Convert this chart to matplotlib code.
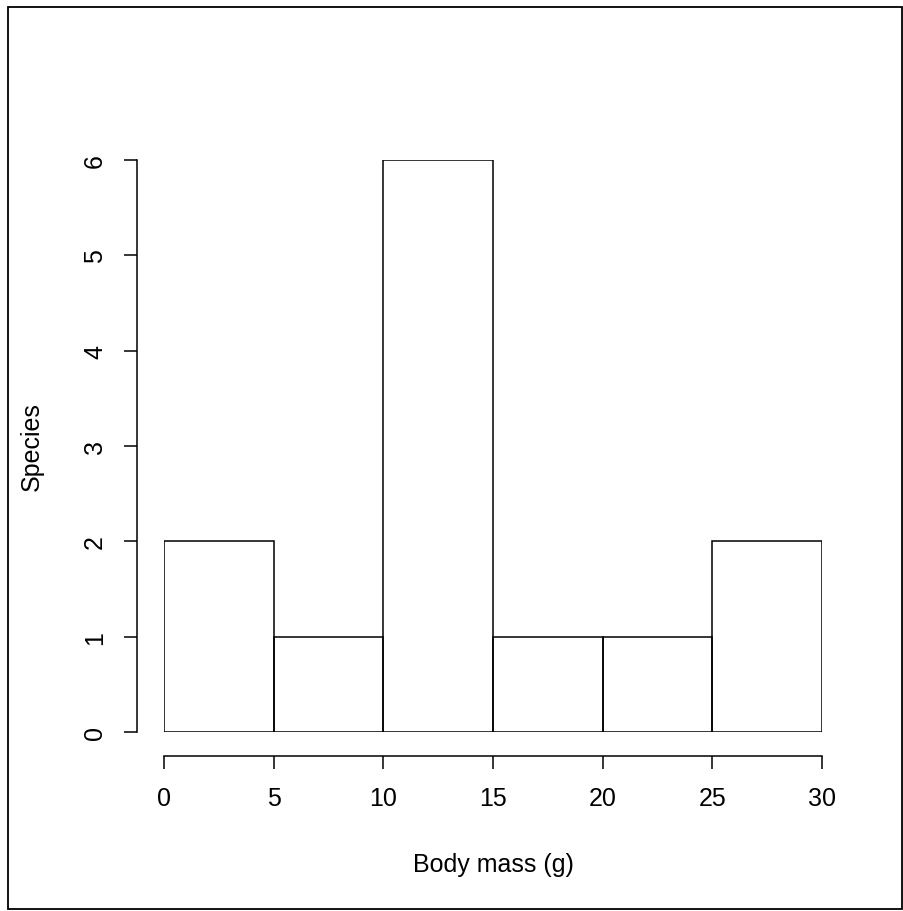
import numpy as np
from matplotlib import pyplot as plt
from matplotlib.patches import Rectangle

plt.rcParams['font.family'] = ['Liberation Sans', 'DejaVu Sans']

# histogram data
bin_edges = [0, 5, 10, 15, 20, 25, 30]
counts = [2, 1, 6, 1, 1, 2]
x_ticks = [0, 5, 10, 15, 20, 25, 30]
y_ticks = [0, 1, 2, 3, 4, 5, 6]

W, H = 904, 912
fig = plt.figure(figsize=(W / 100, H / 100), dpi=100)
# plot region in pixels: x 164..822, y 161..733 (from top)
ax = fig.add_axes([164 / W, 1 - 733 / H, (822 - 164) / W, (733 - 161) / H])

lefts = np.array(bin_edges[:-1])
widths = np.diff(bin_edges)
ax.bar(lefts, counts, width=widths, align='edge', fill=False,
       edgecolor='black', linewidth=1.1)

ax.set_xlim(0, 30)
ax.set_ylim(0, 6)
ax.set_xticks(x_ticks)
ax.set_yticks(y_ticks)

for s in ['top', 'right']:
    ax.spines[s].set_visible(False)
ax.spines['left'].set_position(('outward', 27 * 0.72))
ax.spines['bottom'].set_position(('outward', 24 * 0.72))
ax.spines['left'].set_bounds(0, 6)
ax.spines['bottom'].set_bounds(0, 30)
for s in ['left', 'bottom']:
    ax.spines[s].set_linewidth(1.1)
ax.tick_params(length=9.5, width=1.1, labelsize=18, pad=12, colors='black')
ax.tick_params(axis='y', labelrotation=90, pad=12)
for lab in ax.get_yticklabels():
    lab.set_va('center')

ax.set_xlabel('Body mass (g)', fontsize=18, labelpad=30)
ax.set_ylabel('Species', fontsize=18, labelpad=28)

# outer frame
fig.patches.append(Rectangle((8 / W, 2 / H), 1 - 10 / W, 1 - 10 / H,
                             transform=fig.transFigure, fill=False,
                             edgecolor='black', linewidth=1.3))

fig.savefig('out.png', dpi=100)
